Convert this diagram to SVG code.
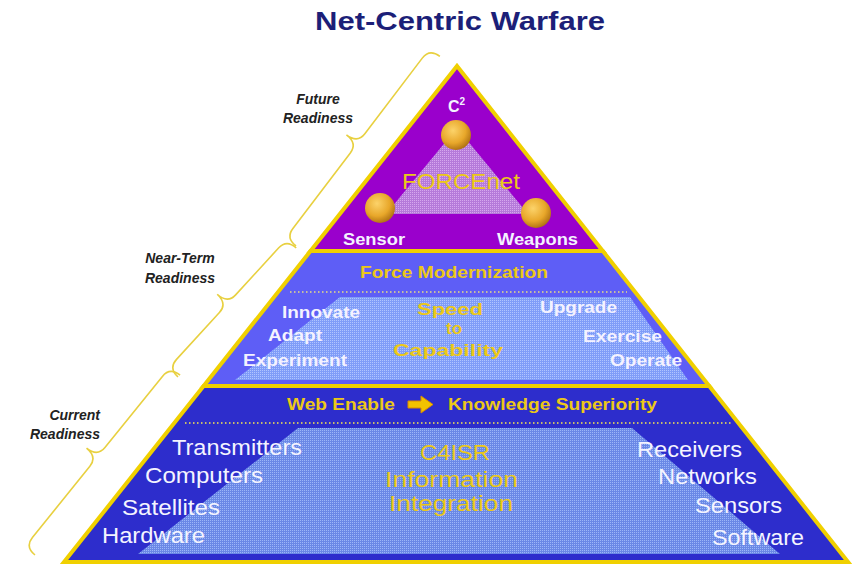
<svg xmlns="http://www.w3.org/2000/svg" width="852" height="565" viewBox="0 0 852 565">
<style>
  text { font-family: "Liberation Sans", Arial, sans-serif; }
  .title { font-size: 25px; font-weight: bold; fill: #1c1f78; }
  .lbl { font-size: 14px; font-weight: bold; font-style: italic; fill: #222; }
  .sec { stroke: #f0d000; stroke-width: 4; stroke-linejoin: miter; }
  .yb { fill: #ecc818; font-weight: bold; }
  .yr { fill: #ecc818; }
  .wb { fill: #f4f2ff; font-weight: bold; }
  .wr { fill: #f4f4ff; }
  .brace { fill: none; stroke: #e8d040; stroke-width: 1.6; }
  .dots { stroke-width: 2; stroke-dasharray: 1.5 2.5; }
</style>
<defs>
  <pattern id="dotTop" width="2" height="2" patternUnits="userSpaceOnUse">
    <rect width="2" height="2" fill="#b57ada"/><rect width="1" height="1" fill="#d6a8ee"/>
  </pattern>
  <pattern id="dotMid" width="2" height="2" patternUnits="userSpaceOnUse">
    <rect width="2" height="2" fill="#7f9cf8"/><rect width="1" height="1" fill="#b0c4ff"/>
  </pattern>
  <pattern id="dotBot" width="2" height="2" patternUnits="userSpaceOnUse">
    <rect width="2" height="2" fill="#6a88e6"/><rect width="1" height="1" fill="#9cb6f8"/>
  </pattern>
  <radialGradient id="ball" cx="0.4" cy="0.35" r="0.7">
    <stop offset="0" stop-color="#fcd36a"/>
    <stop offset="0.6" stop-color="#e8a72a"/>
    <stop offset="1" stop-color="#a86a10"/>
  </radialGradient>
</defs>

<rect width="852" height="565" fill="#ffffff"/>

<g id="title">
  <text class="title" x="315" y="30" textLength="290" lengthAdjust="spacingAndGlyphs">Net-Centric Warfare</text>
</g>

<g id="bottom-section">
  <polygon class="sec" points="203.6,386 709.2,386 848,562 64,562" fill="#2d2dcc"/>
  <polygon points="298,428 632,428 780,554 138,554" fill="url(#dotBot)"/>
  <line class="dots" x1="185" y1="423" x2="733" y2="423" stroke="#c8bc6a"/>
  <text class="yb" x="287" y="410" font-size="17" textLength="108" lengthAdjust="spacingAndGlyphs">Web Enable</text>
  <polygon points="408,401 421,401 421,396 433,404.5 421,413 421,408 408,408" fill="#f2c200" stroke="#d88a00" stroke-width="1"/>
  <text class="yb" x="448" y="410" font-size="17" textLength="209" lengthAdjust="spacingAndGlyphs">Knowledge Superiority</text>
  <text class="wr" x="172" y="455" font-size="22" textLength="130" lengthAdjust="spacingAndGlyphs">Transmitters</text>
  <text class="wr" x="145" y="483" font-size="22" textLength="118" lengthAdjust="spacingAndGlyphs">Computers</text>
  <text class="wr" x="122" y="515" font-size="22" textLength="98" lengthAdjust="spacingAndGlyphs">Satellites</text>
  <text class="wr" x="102" y="543" font-size="22" textLength="103" lengthAdjust="spacingAndGlyphs">Hardware</text>
  <text class="wr" x="637" y="457" font-size="22" textLength="105" lengthAdjust="spacingAndGlyphs">Receivers</text>
  <text class="wr" x="658" y="484" font-size="22" textLength="99" lengthAdjust="spacingAndGlyphs">Networks</text>
  <text class="wr" x="695" y="513" font-size="22" textLength="87" lengthAdjust="spacingAndGlyphs">Sensors</text>
  <text class="wr" x="712" y="545" font-size="22" textLength="92" lengthAdjust="spacingAndGlyphs">Software</text>
  <text class="yr" x="455" y="460" font-size="22" text-anchor="middle" textLength="70" lengthAdjust="spacingAndGlyphs">C4ISR</text>
  <text class="yr" x="451.5" y="487" font-size="22" text-anchor="middle" textLength="133" lengthAdjust="spacingAndGlyphs">Information</text>
  <text class="yr" x="451" y="511" font-size="22" text-anchor="middle" textLength="124" lengthAdjust="spacingAndGlyphs">Integration</text>
</g>

<g id="middle-section">
  <polygon class="sec" points="310.5,251 602.8,251 709.2,386 203.6,386" fill="#5e5ef6"/>
  <polygon points="340,297 630,297 688,380 235,380" fill="url(#dotMid)"/>
  <line class="dots" x1="290" y1="292" x2="627" y2="292" stroke="#c6bea0"/>
  <text class="yb" x="360" y="278" font-size="17" textLength="188" lengthAdjust="spacingAndGlyphs">Force Modernization</text>
  <text class="wb" x="282" y="318" font-size="16" textLength="78" lengthAdjust="spacingAndGlyphs">Innovate</text>
  <text class="wb" x="268" y="341" font-size="16" textLength="54" lengthAdjust="spacingAndGlyphs">Adapt</text>
  <text class="wb" x="243" y="366" font-size="16" textLength="104" lengthAdjust="spacingAndGlyphs">Experiment</text>
  <text class="wb" x="540" y="313" font-size="16" textLength="77" lengthAdjust="spacingAndGlyphs">Upgrade</text>
  <text class="wb" x="583" y="342" font-size="16" textLength="79" lengthAdjust="spacingAndGlyphs">Exercise</text>
  <text class="wb" x="610" y="366" font-size="16" textLength="72" lengthAdjust="spacingAndGlyphs">Operate</text>
  <text class="yb" x="450" y="315" font-size="17" text-anchor="middle" textLength="66" lengthAdjust="spacingAndGlyphs">Speed</text>
  <text class="yb" x="454" y="334" font-size="17" text-anchor="middle">to</text>
  <text class="yb" x="448" y="356" font-size="17" text-anchor="middle" textLength="110" lengthAdjust="spacingAndGlyphs">Capability</text>
</g>

<g id="top-section">
  <polygon class="sec" points="457,66 602.8,251 310.5,251" fill="#9a00cc"/>
  <polygon points="457,128 528,214 386,214" fill="url(#dotTop)"/>
  <text class="wb" x="448" y="112" font-size="16">C<tspan font-size="10" dy="-7">2</tspan></text>
  <circle cx="456" cy="135" r="15" fill="url(#ball)"/>
  <circle cx="380" cy="208" r="15" fill="url(#ball)"/>
  <circle cx="536" cy="213" r="15" fill="url(#ball)"/>
  <text class="yr" x="402" y="189" font-size="22" textLength="118" lengthAdjust="spacingAndGlyphs">FORCEnet</text>
  <text class="wb" x="343" y="245" font-size="17" textLength="62" lengthAdjust="spacingAndGlyphs">Sensor</text>
  <text class="wb" x="497" y="245" font-size="17" textLength="81" lengthAdjust="spacingAndGlyphs">Weapons</text>
</g>

<g id="connectors">
  <path class="brace" transform="translate(296,246) rotate(-52.8)" d="M0,0 C0,-8 4,-13 12,-13 L107,-13 C115,-13 119,-18 119,-27 C119,-18 123,-13 131,-13 L226,-13 C234,-13 238,-8 238,0"/>
  <path class="brace" transform="translate(178,377) rotate(-47.5)" d="M0,0 C0,-8 4,-13 12,-13 L75.5,-13 C83.5,-13 87.5,-18 87.5,-27 C87.5,-18 91.5,-13 99.5,-13 L163,-13 C171,-13 175,-8 175,0"/>
  <path class="brace" transform="translate(35,555) rotate(-51.1)" d="M0,0 C0,-8 4,-13 12,-13 L103.5,-13 C111.5,-13 115.5,-18 115.5,-27 C115.5,-18 119.5,-13 127.5,-13 L219,-13 C227,-13 231,-8 231,0"/>
</g>

<g id="labels">
  <text class="lbl" x="318" y="104" text-anchor="middle">Future</text>
  <text class="lbl" x="318" y="123" text-anchor="middle">Readiness</text>
  <text class="lbl" x="180" y="263" text-anchor="middle">Near-Term</text>
  <text class="lbl" x="180" y="283" text-anchor="middle">Readiness</text>
  <text class="lbl" x="100" y="420" text-anchor="end">Current</text>
  <text class="lbl" x="100" y="439" text-anchor="end">Readiness</text>
</g>
</svg>
